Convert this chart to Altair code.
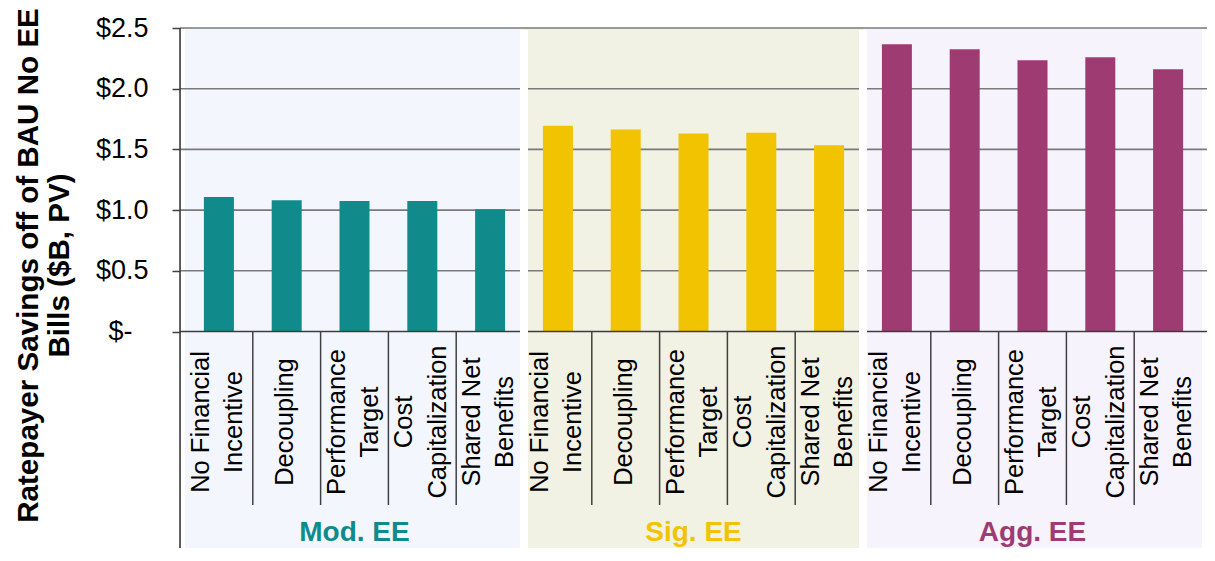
import altair as alt
import pandas as pd

# ---- data ----
groups = ["Mod. EE", "Sig. EE", "Agg. EE"]
incentives = ["No Financial\nIncentive", "Decoupling", "Performance\nTarget",
              "Cost\nCapitalization", "Shared Net\nBenefits"]
mod_values = [1.107, 1.082, 1.074, 1.074, 1.006]
sig_values = [1.695, 1.663, 1.630, 1.638, 1.535]
agg_values = [2.366, 2.325, 2.235, 2.259, 2.160]
y_ticks = [0, 0.5, 1.0, 1.5, 2.0, 2.5]
y_title = ["Ratepayer Savings off of BAU No EE", "Bills ($B, PV)"]

# ---- styles ----
bar_colors = ["#108A8A", "#F2C300", "#9E3B73"]
panel_colors = ["#F3F7FD", "#F1F1E4", "#F7F3FC"]

W, H = 1027, 520
Y0 = 303.5
n = len(incentives)
UNIT = W / (len(groups) * n)          # pixels per category
D1, D2, DS = -18 / UNIT, 15.5 / UNIT, -2 / UNIT   # label line offsets

rows = []
for g, (grp, vals) in enumerate(zip(groups, [mod_values, sig_values, agg_values])):
    for k, (lab, v) in enumerate(zip(incentives, vals)):
        parts = lab.split("\n")
        rows.append({"group": grp, "l1": parts[0],
                     "l2": parts[1] if len(parts) > 1 else "",
                     "value": v, "pos": g * n + k + 0.5, "color": bar_colors[g]})
bars_df = pd.DataFrame(rows)
panels_df = pd.DataFrame({
    "group": groups,
    "start": [g * n for g in range(len(groups))],
    "end": [(g + 1) * n for g in range(len(groups))],
    "center": [g * n + n / 2 for g in range(len(groups))],
    "bg": panel_colors,
    "fg": bar_colors,
})
seps_df = pd.DataFrame({"b": [g * n + k for g in range(len(groups)) for k in range(1, n)]})
gaps_df = pd.DataFrame({"b": [g * n for g in range(1, len(groups))]})
grid_df = pd.DataFrame({"value": y_ticks[1:]})
base_df = pd.DataFrame({"value": [0]})

xscale = alt.Scale(domain=[0, len(groups) * n], nice=False, zero=False)
yscale = alt.Scale(domain=[0, 2.5], range=[Y0, 0], nice=False, zero=True)
yaxis = alt.Axis(
    values=y_ticks,
    labelExpr="datum.value == 0 ? '$-' : '$' + format(datum.value, '.1f')",
    grid=False, domain=False, ticks=True, tickSize=8, tickColor="#404040", tickWidth=1.5,
    labelFontSize=27, labelColor="black",
    labelPadding={"condition": {"test": "datum.value == 0", "value": 40}, "value": 24},
    labelFlush=False,
    title=y_title, titleFontSize=29.6, titleFontWeight="bold", titleColor="black",
    titleAngle=270, titleAlign="center", titleBaseline="middle", titleLineHeight=31,
    titleX=-152, titleY=237,
)

bg = alt.Chart(panels_df).mark_rect().encode(
    x=alt.X("start:Q", scale=xscale, axis=None), x2="end:Q",
    y=alt.value(0), y2=alt.value(H),
    color=alt.Color("bg:N", scale=None),
)
grid = alt.Chart(grid_df).mark_rule(color="#7a7a7a", strokeWidth=1.6).encode(
    y=alt.Y("value:Q", scale=yscale, axis=yaxis), x=alt.value(0), x2=alt.value(W)
)
bars = alt.Chart(bars_df).mark_bar(size=30, orient="vertical").encode(
    x=alt.X("pos:Q", scale=xscale, axis=None),
    y=alt.Y("value:Q", scale=yscale, axis=yaxis),
    color=alt.Color("color:N", scale=None),
)
base = alt.Chart(base_df).mark_rule(color="#3c3c3c", strokeWidth=1.6).encode(
    y=alt.Y("value:Q", scale=yscale, axis=yaxis), x=alt.value(0), x2=alt.value(W)
)
seps = alt.Chart(seps_df).mark_rule(color="#404040", strokeWidth=1.5).encode(
    x=alt.X("b:Q", scale=xscale, axis=None), y=alt.value(Y0), y2=alt.value(477)
)
txt_style = dict(angle=270, align="center", baseline="middle", fontSize=25.5, color="black")
line1 = alt.Chart(bars_df).transform_calculate(
    p1=f"datum.pos + (datum.l2 != '' ? {D1} : {DS})"
).mark_text(**txt_style).encode(
    x=alt.X("p1:Q", scale=xscale, axis=None), y=alt.value(394), text="l1:N"
)
line2 = alt.Chart(bars_df).transform_filter("datum.l2 != ''").transform_calculate(
    p2=f"datum.pos + {D2}"
).mark_text(**txt_style).encode(
    x=alt.X("p2:Q", scale=xscale, axis=None), y=alt.value(394), text="l2:N"
)
glabels = alt.Chart(panels_df).mark_text(fontSize=28, fontWeight="bold").encode(
    x=alt.X("center:Q", scale=xscale, axis=None), y=alt.value(505),
    text="group:N", color=alt.Color("fg:N", scale=None),
)
gaps = alt.Chart(gaps_df).mark_rect(color="white", xOffset=-4, x2Offset=4).encode(
    x=alt.X("b:Q", scale=xscale, axis=None), x2="b:Q",
    y=alt.value(2), y2=alt.value(H),
)
leftline = alt.Chart(base_df).mark_rule(color="#3c3c3c", strokeWidth=1.6).encode(
    x=alt.value(0), y=alt.value(0), y2=alt.value(H)
)

chart = alt.layer(bg, grid, bars, base, seps, line1, line2, glabels, gaps, leftline).properties(
    width=W, height=H, autosize="none",
    padding={"left": 172, "top": 20, "right": 0, "bottom": 0},
    background="white",
).configure_view(stroke=None).configure(font="Liberation Sans")

chart.save("out.html", embed_options={"renderer": "svg", "actions": False})
